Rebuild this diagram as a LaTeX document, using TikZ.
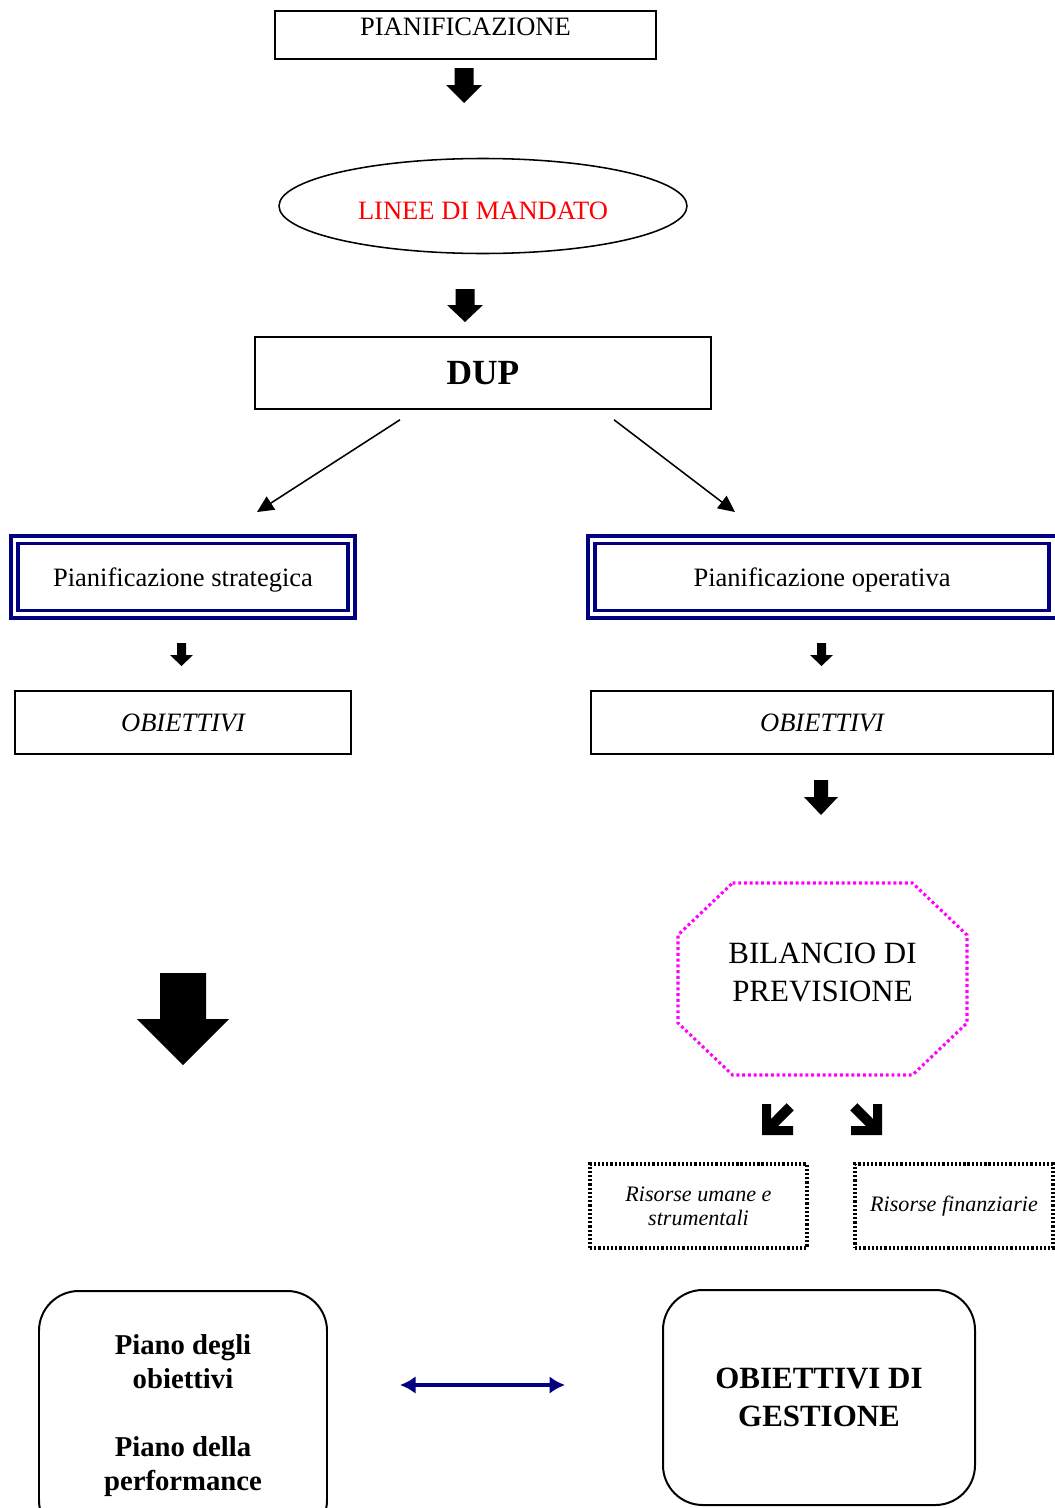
\documentclass[tikz,border=0pt]{standalone}
\usepackage{fontspec}
\setmainfont{Liberation Serif}
\usetikzlibrary{shapes.geometric,arrows.meta,calc}
\newdimen\pu \pu=0.4525pt
\definecolor{dupnavy}{RGB}{0,0,128}
\definecolor{bilmagenta}{RGB}{255,0,255}
\begin{document}
\begin{tikzpicture}
[x=0.4525pt, y=-0.4525pt,
  every node/.style={font=\fontsize{12}{14.4}\selectfont},%
  boxdecorate/.style={draw,line width=0.7pt,inner sep=0pt,align=center},%
  doubledecorate/.style={draw=dupnavy,line width=1.55pt,double=white,double distance=1.8pt,inner sep=0pt,
    text height=22\pu,text depth=4\pu},%
  dotdecorate/.style={draw,line width=1.5pt,dash pattern=on 1pt off 0.9pt,inner sep=0pt,align=center,
    font=\fontsize{10}{11}\selectfont\itshape},%
  roundecorate/.style={draw,line width=0.9pt,rounded corners=18pt,inner sep=0pt,align=center},%
  linedecorate/.style={-{Triangle[length=7.5pt,width=7pt]},line width=0.7pt},%
  biarrowdecorate/.style={{Latex[length=7pt,width=8pt]}-{Latex[length=7pt,width=8pt]},line width=2pt,draw=dupnavy,fill=dupnavy}]
\useasboundingbox (0,0) rectangle (1055,1508);
%% nodes or boxes
\node (pian) at (465.5,35) [boxdecorate,minimum width=381\pu,text height=25\pu,text depth=23\pu] {PIANIFICAZIONE};
\node (linee) at (483,206) [ellipse,draw,line width=0.7pt,minimum width=408\pu,minimum height=95\pu,inner sep=0pt,
  text=red,text height=28\pu] {LINEE DI MANDATO};
\node (dup) at (483,373) [boxdecorate,minimum width=456\pu,minimum height=72\pu,font=\fontsize{16}{19}\selectfont\bfseries] {DUP};
\node (pstrat) at (183,577) [doubledecorate,minimum width=337\pu,minimum height=74.5\pu] {Pianificazione strategica};
\node (poper) at (822,577) [doubledecorate,minimum width=461\pu,minimum height=74.5\pu] {Pianificazione operativa};
\node (obstrat) at (183,722.5) [boxdecorate,minimum width=336\pu,minimum height=63\pu,font=\fontsize{12}{14.4}\selectfont\itshape] {OBIETTIVI};
\node (obopera) at (822,722.5) [boxdecorate,minimum width=462\pu,minimum height=63\pu,font=\fontsize{12}{14.4}\selectfont\itshape] {OBIETTIVI};
\node (bil) at (822.5,972) [inner sep=0pt,align=center,font=\fontsize{14}{17.2}\selectfont] {BILANCIO DI\\PREVISIONE};
\node (risum) at (698.5,1206) [dotdecorate,minimum width=217\pu,minimum height=84\pu] {Risorse umane e\\strumentali};
\node (risfin) at (954,1206) [dotdecorate,minimum width=198\pu,minimum height=84\pu] {Risorse finanziarie};
\node (piano) at (183,1415.5) [roundecorate,minimum width=288\pu,minimum height=249\pu,
  font=\fontsize{13}{15.4}\selectfont\bfseries] {Piano degli\\obiettivi\\[15.4pt]Piano della\\performance};
\node (obgest) at (819,1397.5) [roundecorate,minimum width=312\pu,minimum height=215\pu,
  font=\fontsize{14}{17.2}\selectfont\bfseries] {OBIETTIVI DI\\GESTIONE};
%% octagon round the bilancio
\draw[bilmagenta,line width=1.4pt,dash pattern=on 1.3pt off 1.3pt]
  ($(bil)+(-90,-89)$) -- ($(bil)+(90,-89)$) -- ($(bil)+(144.5,-37)$) -- ($(bil)+(144.5,51)$)
  -- ($(bil)+(90,103)$) -- ($(bil)+(-90,103)$) -- ($(bil)+(-144.5,51)$) -- ($(bil)+(-144.5,-37)$) -- cycle;
%% block arrows
\foreach \cx/\ytop/\yhead/\ytip/\sw/\hw in {464/68/85/103/9.5/18, 465/289/305/322/9.5/18,
  181.5/643/655/666/4.5/11.5, 821.5/643/655/666/4.5/11.5, 821/780/797/815/7/17, 183/973/1019/1065/23/46} {
  \fill (\cx-\sw,\ytop) -- (\cx+\sw,\ytop) -- (\cx+\sw,\yhead) -- (\cx+\hw,\yhead) -- (\cx,\ytip)
    -- (\cx-\hw,\yhead) -- (\cx-\sw,\yhead) -- cycle;
}
\foreach \cx/\flip in {762/1, 882/-1} {
  \fill[shift={(\cx,1135)},xscale=\flip] (0,0) -- (0,-31) -- (9,-31) -- (9,-16) -- (24.7,-31.8)
    -- (31.8,-24.7) -- (16,-9) -- (31,-9) -- (31,0) -- cycle;
}
%% edges or lines
\draw[linedecorate] ([shift={(-83,10)}]dup.south) -- ([shift={(74,-26)}]pstrat.north);
\draw[linedecorate] ([shift={(131,10)}]dup.south) -- ([shift={(-87,-26)}]poper.north);
\draw[biarrowdecorate,shorten <=32.6pt,shorten >=43.9pt] (piano.east |- 0,1385) -- (obgest.west |- 0,1385);
\end{tikzpicture}
\end{document}
